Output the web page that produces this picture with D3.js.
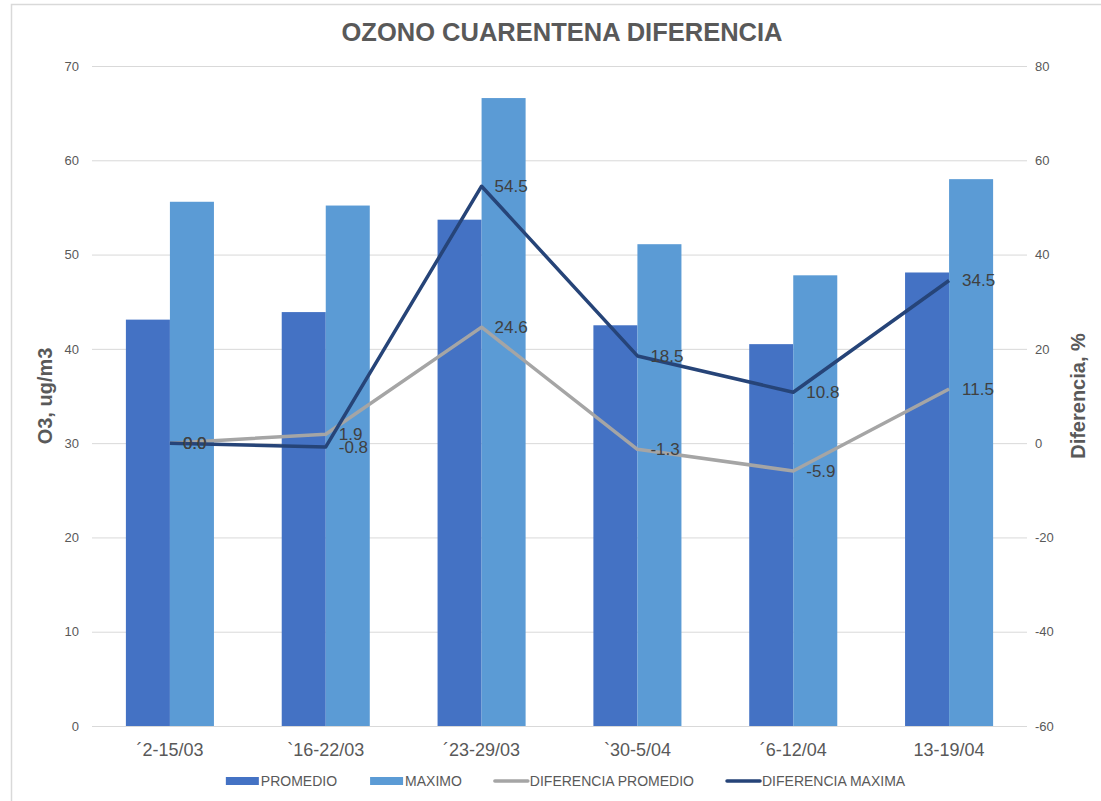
<!DOCTYPE html>
<html>
<head>
<meta charset="utf-8">
<script src="https://cdn.jsdelivr.net/npm/d3@7"></script>
<style>
  body { margin: 0; background: #fff; }
  svg { display: block; font-family: "Liberation Sans", Arial, sans-serif; }
</style>
</head>
<body>
<div id="chart"></div>
<script>
const categories = ['´2-15/03', '`16-22/03', '´23-29/03', '`30-5/04', '´6-12/04', '13-19/04'];
const promedio = [43.1, 43.9, 53.7, 42.5, 40.5, 48.1];
const maximo = [55.6, 55.2, 66.6, 51.1, 47.8, 58.0];
const difPromedio = [0.0, 1.9, 24.6, -1.3, -5.9, 11.5];
const difMaxima = [0.0, -0.8, 54.5, 18.5, 10.8, 34.5];
const leftTicks = [0, 10, 20, 30, 40, 50, 60, 70];
const rightTicks = [-60, -40, -20, 0, 20, 40, 60, 80];

const width = 1101, height = 801;
const plot = {left: 92, right: 1027, top: 66, bottom: 726};
const textColor = '#595959';

const barSeries = [
    {name: 'PROMEDIO', values: promedio, color: '#4472c4'},
    {name: 'MAXIMO', values: maximo, color: '#5b9bd5'}
];
const lineSeries = [
    {name: 'DIFERENCIA PROMEDIO', values: difPromedio, color: '#a5a5a5'},
    {name: 'DIFERENCIA MAXIMA', values: difMaxima, color: '#264478'}
];

let plainNumber = function(v) { return String(v); };

let svg = d3.select('#chart').append('svg').attr('width', width).attr('height', height);

// chart frame
svg.append('path')
    .attr('d', 'M11.5,' + height + 'V4.5H' + width)
    .attr('fill', 'none').attr('stroke', '#d9d9d9').attr('stroke-width', 1.5);

let x0 = d3.scaleBand().domain(categories).range([plot.left, plot.right])
    .paddingInner(0.435).paddingOuter(0.2175);
let x1 = d3.scaleBand().domain(barSeries.map(function(s){return s.name})).range([0, x0.bandwidth()]);
let yLeft = d3.scaleLinear().domain([0, 70]).range([plot.bottom, plot.top]);
let yRight = d3.scaleLinear().domain([-60, 80]).range([plot.bottom, plot.top]);
let xCenter = function(cat) { return x0(cat) + x0.bandwidth()/2; };

// gridlines
let grid = d3.axisLeft(yLeft).tickValues(leftTicks).tickSize(-(plot.right - plot.left)).tickFormat('');
svg.append('g').attr('transform', 'translate(' + plot.left + ',0)').call(grid)
    .call(function(g){
        g.select('.domain').remove();
        g.selectAll('line').attr('stroke', '#d9d9d9').attr('stroke-width', 1);
    });

// left axis labels
svg.append('g').attr('transform', 'translate(' + (plot.left - 13) + ',0)')
    .call(d3.axisLeft(yLeft).tickValues(leftTicks).tickSize(0).tickPadding(0).tickFormat(plainNumber))
    .call(function(g){
        g.select('.domain').remove();
        g.selectAll('text').attr('fill', textColor).style('font-size', '13px')
            .style('font-family', '"Liberation Sans", Arial, sans-serif');
    });

// right axis labels
svg.append('g').attr('transform', 'translate(' + (plot.right + 8) + ',0)')
    .call(d3.axisRight(yRight).tickValues(rightTicks).tickSize(0).tickPadding(0).tickFormat(plainNumber))
    .call(function(g){
        g.select('.domain').remove();
        g.selectAll('text').attr('fill', textColor).style('font-size', '13px')
            .style('font-family', '"Liberation Sans", Arial, sans-serif');
    });

// bars
barSeries.forEach(function(series){
    svg.append('g').selectAll('rect').data(series.values).enter().append('rect')
        .attr('x', function(v, i){ return x0(categories[i]) + x1(series.name); })
        .attr('width', x1.bandwidth())
        .attr('y', function(v){ return yLeft(v); })
        .attr('height', function(v){ return yLeft(0) - yLeft(v); })
        .attr('fill', series.color);
});

// lines
let line = d3.line()
    .x(function(v, i){ return xCenter(categories[i]); })
    .y(function(v){ return yRight(v); });

lineSeries.forEach(function(series){
    svg.append('path').datum(series.values)
        .attr('d', line)
        .attr('fill', 'none')
        .attr('stroke', series.color)
        .attr('stroke-width', 3.5)
        .attr('stroke-linejoin', 'round');
});

// data labels
lineSeries.forEach(function(series){
    svg.append('g').selectAll('text').data(series.values).enter().append('text')
        .attr('x', function(v, i){ return xCenter(categories[i]) + 13; })
        .attr('y', function(v){ return yRight(v); })
        .attr('dy', '0.35em')
        .attr('fill', '#404040')
        .style('font-size', '17px')
        .text(function(v){ return v.toFixed(1); });
});

// x axis labels
svg.append('g').attr('transform', 'translate(0,' + (plot.bottom + 17) + ')')
    .call(d3.axisBottom(x0).tickSize(0).tickPadding(0))
    .call(function(g){
        g.select('.domain').remove();
        g.selectAll('text').attr('fill', textColor).style('font-size', '18px')
            .style('font-family', '"Liberation Sans", Arial, sans-serif');
    });

// title
svg.append('text')
    .attr('x', 562).attr('y', 41)
    .attr('text-anchor', 'middle')
    .attr('fill', textColor)
    .style('font-size', '25.5px').style('font-weight', 'bold')
    .text('OZONO CUARENTENA DIFERENCIA');

// axis titles
svg.append('text')
    .attr('transform', 'translate(52,' + ((plot.top + plot.bottom)/2) + ') rotate(-90)')
    .attr('text-anchor', 'middle')
    .attr('fill', textColor)
    .style('font-size', '20px').style('font-weight', 'bold')
    .text('O3, ug/m3');

svg.append('text')
    .attr('transform', 'translate(1085,' + ((plot.top + plot.bottom)/2) + ') rotate(-90)')
    .attr('text-anchor', 'middle')
    .attr('fill', textColor)
    .style('font-size', '20px').style('font-weight', 'bold')
    .text('Diferencia, %');

// legend
let legendItems = barSeries.map(function(s){ return {name: s.name, color: s.color, type: 'bar'}; })
    .concat(lineSeries.map(function(s){ return {name: s.name, color: s.color, type: 'line'}; }));
let legend = svg.append('g');
let swatchW = 33, legendY = 781, itemGap = 33;
let offset = 0;
legendItems.forEach(function(item){
    let g = legend.append('g').attr('transform', 'translate(' + offset + ',0)');
    if (item.type === 'bar') {
        g.append('rect').attr('x', 0).attr('y', legendY - 4).attr('width', swatchW).attr('height', 8).attr('fill', item.color);
    } else {
        g.append('line').attr('x1', 0).attr('x2', swatchW).attr('y1', legendY).attr('y2', legendY)
            .attr('stroke', item.color).attr('stroke-width', 3.5).attr('stroke-linecap', 'round');
    }
    let t = g.append('text').attr('x', swatchW + 2).attr('y', legendY).attr('dy', '0.35em')
        .attr('fill', textColor).style('font-size', '14px').text(item.name);
    offset += swatchW + 2 + t.node().getComputedTextLength() + itemGap;
});
offset -= itemGap;
legend.attr('transform', 'translate(' + (565.5 - offset/2) + ',0)');
</script>
</body>
</html>
